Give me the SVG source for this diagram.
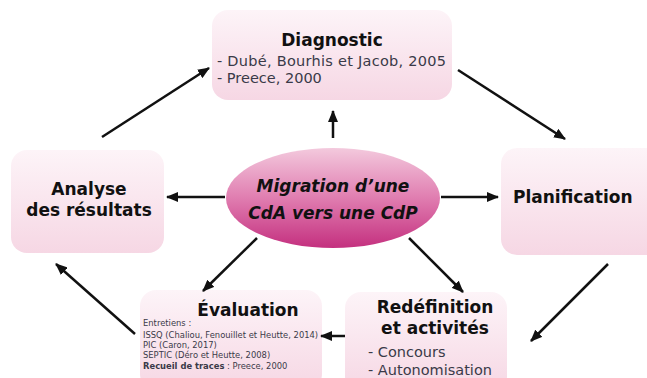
<svg xmlns="http://www.w3.org/2000/svg" width="647" height="378" viewBox="0 0 647 378">
<defs>
<linearGradient id="boxg" x1="0" y1="0" x2="0" y2="1">
<stop offset="0" stop-color="#fdf4f8"/>
<stop offset="1" stop-color="#f6d7e4"/>
</linearGradient>
<linearGradient id="ellg" x1="0" y1="0" x2="0" y2="1">
<stop offset="0" stop-color="#f3c9dd"/>
<stop offset="0.5" stop-color="#e07db0"/>
<stop offset="1" stop-color="#c4307f"/>
</linearGradient>
<marker id="ah" viewBox="0 0 12 10" refX="11" refY="5" markerWidth="12" markerHeight="10" markerUnits="userSpaceOnUse" orient="auto">
<path d="M0,0 L12,5 L0,10 Z" fill="#111"/>
</marker>
<style>
.box{fill:url(#boxg);}
.t{font-family:"DejaVu Sans",sans-serif;font-weight:bold;font-size:17px;fill:#111;text-anchor:middle;}
.s{font-family:"DejaVu Sans",sans-serif;font-size:14.5px;fill:#3a3a48;}
.xs{font-family:"DejaVu Sans",sans-serif;font-size:8.4px;fill:#3a3a48;}
.c{fill:none;stroke:#111;stroke-width:2.5;marker-end:url(#ah);}
</style>
</defs>
<rect width="647" height="378" fill="#fff"/>
<g id="diagnostic">
<rect class="box" x="212" y="10" width="240" height="90" rx="16"/>
<text class="t" x="332" y="46" font-size="18">Diagnostic</text>
<text class="s" x="217" y="66" textLength="229">- Dubé, Bourhis et Jacob, 2005</text>
<text class="s" x="217" y="83">- Preece, 2000</text>
</g>
<g id="analyse">
<rect class="box" x="11" y="150" width="153" height="103" rx="16"/>
<text class="t" x="89" y="195">Analyse</text>
<text class="t" x="89" y="216">des résultats</text>
</g>
<g id="planification">
<rect class="box" x="501" y="148" width="170" height="107" rx="16"/>
<text class="t" x="513" y="203" style="text-anchor:start" font-size="17.5">Planification</text>
</g>
<g id="migration">
<ellipse cx="333" cy="198" rx="107" ry="50" fill="url(#ellg)"/>
<text class="t" x="333" y="192" font-size="18.5" font-style="italic">Migration d’une</text>
<text class="t" x="333" y="219" font-size="18.5" font-style="italic">CdA vers une CdP</text>
</g>
<g id="evaluation">
<rect class="box" x="140" y="290" width="182" height="100" rx="16"/>
<text class="t" x="248" y="316" font-size="19">Évaluation</text>
<text class="xs" x="143" y="326">Entretiens :</text>
<text class="xs" x="143" y="338">ISSQ (Chaliou, Fenouillet et Heutte, 2014)</text>
<text class="xs" x="143" y="348">PIC (Caron, 2017)</text>
<text class="xs" x="143" y="358">SEPTIC (Déro et Heutte, 2008)</text>
<text class="xs" x="143" y="369" font-size="9.8"><tspan font-weight="bold">Recueil de traces</tspan> : Preece, 2000</text>
</g>
<g id="redefinition">
<rect class="box" x="345" y="292" width="162" height="100" rx="16"/>
<text class="t" x="435" y="313" font-size="18">Redéfinition</text>
<text class="t" x="435" y="334" font-size="18">et activités</text>
<text class="s" x="368" y="357" font-size="13.5">- Concours</text>
<text class="s" x="368" y="375" font-size="13.5">- Autonomisation</text>
</g>
<g id="connectors">
<line class="c" x1="333" y1="138" x2="333" y2="111"/>
<line class="c" x1="225" y1="197" x2="167" y2="197"/>
<line class="c" x1="441" y1="197" x2="498" y2="197"/>
<line class="c" x1="257" y1="238" x2="203" y2="291"/>
<line class="c" x1="409" y1="238" x2="463" y2="292"/>
<line class="c" x1="102" y1="137" x2="209" y2="68"/>
<line class="c" x1="458" y1="70" x2="565" y2="139"/>
<line class="c" x1="608" y1="264" x2="531" y2="341"/>
<line class="c" x1="345" y1="336" x2="321" y2="336"/>
<line class="c" x1="135" y1="334" x2="56" y2="264"/>
</g>
</svg>
